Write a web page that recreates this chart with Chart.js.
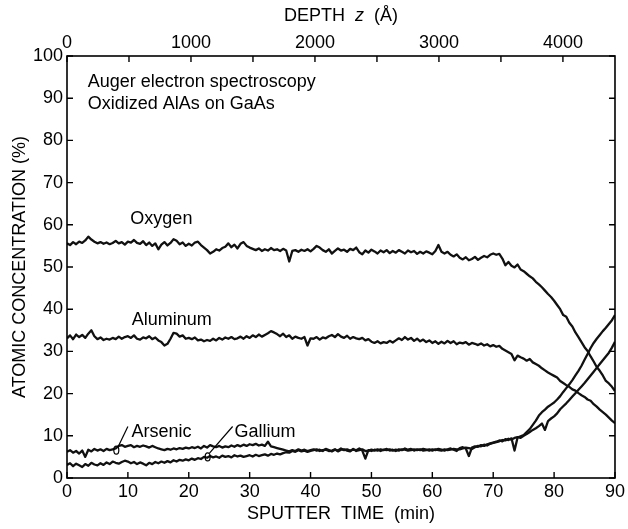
<!DOCTYPE html>
<html>
<head>
<meta charset="utf-8">
<script src="https://cdn.jsdelivr.net/npm/chart.js@4.4.1/dist/chart.umd.min.js"></script>
<style>
  html, body { margin: 0; padding: 0; background: #fff; }
  #grafico-auger { display: block; }
</style>
</head>
<body>
<canvas id="grafico-auger" width="628" height="529"></canvas>
<script>
// Minutes between two Auger readings (first reading at t = 0)
const pasoMinutos = 0.5;

// Atomic concentration (%), one value every 0.5 min
const oxygen = [
  55.6, 55.2, 55.9, 55.4, 56.0, 55.7, 56.3, 57.2, 56.5, 56.0,
  55.6, 55.9, 55.5, 55.8, 55.4, 55.7, 56.2, 55.6, 55.9, 55.3,
  56.0, 55.8, 56.4, 55.7, 55.5, 56.1, 55.2, 55.8, 55.0, 55.6,
  54.2, 55.3, 55.9, 55.1, 55.7, 56.6, 56.2, 55.4, 55.8, 55.0,
  55.5, 55.1, 55.8, 56.0, 55.2, 54.6, 54.0, 53.2, 53.6, 54.2,
  53.9, 54.5, 54.8, 55.6, 54.7, 55.3, 54.4, 55.5, 55.9, 55.0,
  54.6, 54.3, 54.0, 54.4, 53.8, 54.2, 53.9, 54.5, 54.0, 54.2,
  53.8, 54.3, 53.9, 51.3, 53.8, 54.0, 53.6, 54.1, 53.8, 54.2,
  53.7, 54.3, 55.0, 54.6, 54.0, 53.6, 54.2, 53.2, 53.8, 54.4,
  53.9, 54.1, 53.6, 54.3, 54.0, 54.6, 53.5, 53.0, 53.9, 53.4,
  54.1, 53.7, 53.2, 53.9, 53.5, 54.0, 53.3, 53.8, 53.4, 54.0,
  53.6, 53.2, 53.9, 53.5, 53.8, 53.1, 53.6, 53.2, 53.7, 53.4,
  53.0, 53.8, 55.2, 53.6, 53.2, 53.6, 52.9, 52.5, 53.0, 52.2,
  51.8, 52.3, 51.6, 51.9, 52.4, 51.7, 52.2, 52.6, 52.3, 52.9,
  53.2, 52.9, 53.1, 52.0, 50.4, 51.2, 50.3, 49.9, 50.6, 49.4,
  49.0, 48.4, 47.8, 47.3, 46.5, 45.9, 45.2, 44.4, 43.6, 42.9,
  42.0, 41.0, 40.0, 38.6, 38.2, 36.8, 35.9, 34.5, 33.4, 32.2,
  31.0, 30.1, 28.8, 27.6, 26.3, 25.4, 24.3, 23.0, 22.4, 21.6,
  20.6
];

const aluminum = [
  33.1, 33.8, 32.9, 34.0, 33.4, 33.9, 33.2, 34.2, 35.0, 33.6,
  32.9, 33.3, 32.7, 33.0, 32.8, 33.2, 32.9, 33.5, 33.0, 33.4,
  33.6, 33.2, 33.8, 33.0, 32.8, 33.3, 33.1, 33.6, 32.9, 33.3,
  32.6, 32.2, 31.4, 31.8, 33.0, 34.4, 34.2, 33.5, 33.8, 33.0,
  33.2, 32.9, 33.3, 32.6, 32.8, 32.4, 32.7, 32.5, 33.0, 32.6,
  33.2, 32.8, 33.3, 33.0, 33.4, 32.9, 33.1, 33.5, 33.0, 33.6,
  33.2, 33.8, 33.4, 34.0, 33.5, 33.9, 34.3, 34.8, 34.5, 34.1,
  33.6, 34.2, 33.4, 33.8, 33.0, 33.5, 33.2, 33.0, 33.4, 31.4,
  33.1, 33.0, 33.4, 32.8, 33.3, 33.1, 33.6, 33.9, 33.4, 34.1,
  33.5, 33.2, 33.7, 33.0, 33.4, 33.1, 32.9, 33.2, 32.6, 32.9,
  32.3, 32.0, 32.4, 31.9, 32.2, 32.0, 32.5, 32.1, 32.6, 33.1,
  32.7, 33.4, 32.8, 33.2, 32.5, 33.0, 32.4, 32.8, 32.2, 32.6,
  32.0, 32.4, 31.8, 32.3, 31.9, 32.5, 32.0, 32.4, 31.7, 32.1,
  31.9, 32.2, 31.6, 32.0, 31.8, 31.5, 31.9, 31.4, 31.7, 31.2,
  31.5, 31.1, 31.3, 30.6, 30.2, 29.8, 29.4, 27.9, 29.0, 28.6,
  28.3, 27.8, 28.2, 27.4, 27.0, 26.6, 26.0, 25.5, 25.0, 24.6,
  24.2, 23.8, 23.0, 22.5, 22.0, 21.6, 21.0, 20.7, 20.1, 19.6,
  19.2, 18.6, 18.3, 17.5, 16.9, 16.2, 15.6, 15.0, 14.3, 13.6,
  13.0
];

const arsenic = [
  6.2, 6.6, 6.0, 6.4, 5.8, 6.5, 5.0, 6.7, 6.3, 6.9,
  6.5, 6.8, 6.4, 6.9, 6.6, 6.8, 7.0, 7.6, 7.8, 7.4,
  7.6, 7.8, 7.3, 7.6, 7.4, 7.7, 7.5, 7.2, 7.6, 7.3,
  7.0, 6.8, 6.6, 6.9, 6.7, 7.0, 6.8, 7.1, 6.9, 7.2,
  7.0, 7.3, 7.1, 7.4, 7.0, 7.6, 7.2, 7.8, 7.5, 7.3,
  7.6, 7.2, 7.5, 7.3, 7.7, 7.4, 7.8, 7.5, 7.9, 7.6,
  8.0, 7.8, 8.1, 7.7, 7.9, 7.6, 8.6, 7.5, 7.3, 7.1,
  6.9, 6.7, 6.5, 6.3, 6.6, 6.4, 6.8, 6.5, 6.7, 6.4,
  6.6, 6.8, 6.5, 6.7, 6.4, 6.9, 6.6, 6.3, 6.7, 6.5,
  7.0, 6.6, 6.8, 6.5, 6.7, 6.6, 7.0, 6.5, 4.6, 6.6,
  6.4, 6.7, 6.5, 6.8, 6.6, 6.9, 6.5, 6.7, 6.4, 6.8,
  6.6, 7.0, 6.7, 6.9, 6.5, 6.8, 6.6, 6.9, 6.7, 6.5,
  6.8, 6.6, 6.9, 6.7, 6.5, 6.8, 7.0, 6.7, 6.4, 7.1,
  7.3, 7.0, 5.2, 7.2, 7.5, 7.4, 7.8, 7.6, 8.0, 8.2,
  8.4, 8.6, 8.9, 8.7, 9.2, 9.0, 9.4, 6.5, 9.6, 9.9,
  10.2, 10.9, 11.6, 12.6, 13.6, 14.8, 15.6, 16.2, 16.9, 17.4,
  17.9, 18.6, 19.4, 20.4, 21.3, 22.2, 23.2, 24.3, 25.4, 26.6,
  28.0, 29.4, 30.8, 32.0, 33.0, 33.9, 34.8, 35.6, 36.5, 37.4,
  38.6
];

const gallium = [
  3.1, 3.5, 2.8, 3.4, 3.0, 2.6, 3.3, 2.9, 3.6, 3.2,
  3.0, 3.5, 3.1, 3.7, 3.3, 3.9, 3.6, 3.4, 3.8, 4.1,
  3.9, 3.5, 3.8, 3.3, 3.7, 3.4, 3.0, 3.6, 3.3, 3.8,
  3.5, 3.9, 3.6, 4.0, 3.7, 4.2, 3.9, 4.3, 4.1, 4.4,
  4.2, 4.6, 4.3, 4.7, 4.5, 5.0, 4.8, 5.2, 4.9, 5.1,
  4.8, 5.3, 5.0, 5.2, 4.9, 5.4, 5.1, 5.3, 5.0, 5.2,
  5.4, 5.1, 5.5, 5.2, 5.4, 5.6, 5.3, 5.7, 5.5, 5.8,
  5.6, 5.9, 6.1, 6.0, 6.4, 6.2, 6.6, 6.3, 6.5, 6.2,
  6.4, 6.6, 6.8, 6.4, 6.6, 6.7, 6.4, 6.5, 6.8, 6.3,
  6.7, 6.8, 6.5, 6.3, 6.9, 6.4, 6.6, 6.8, 6.4, 6.5,
  6.7, 6.5, 6.8, 6.4, 6.7, 6.6, 6.8, 6.5, 6.7, 6.5,
  6.8, 6.7, 6.5, 6.6, 6.8, 6.6, 6.8, 6.5, 6.6, 6.8,
  6.5, 6.8, 6.6, 6.5, 6.8, 6.6, 6.7, 6.9, 6.8, 6.8,
  7.0, 7.2, 7.1, 6.9, 7.3, 7.6, 7.5, 7.9, 7.7, 8.1,
  8.3, 8.5, 8.7, 9.0, 8.9, 9.3, 9.1, 9.5, 9.7, 9.5,
  10.0, 10.4, 10.9, 11.4, 11.8, 12.3, 12.9, 11.4, 13.5, 14.1,
  14.6, 15.3, 16.3, 17.0, 17.7, 18.5, 19.3, 20.1, 20.9, 21.7,
  22.5, 23.4, 24.3, 25.2, 26.1, 27.0, 27.9, 28.8, 29.7, 30.9,
  32.3
];

// Axis ranges and the depth scale ticks (Å)
const tiempoMax = 90;        // min
const profundidadMax = 4420; // Å reached at 90 min
const profundidadTicks = [0, 500, 1000, 1500, 2000, 2500, 3000, 3500, 4000];

// Text written inside the plot, placed in data units (min, %)
const rotulos = [
  { texto: 'Auger electron spectroscopy', t: 3.4, v: 93.8, align: 'left' },
  { texto: 'Oxidized AlAs on GaAs', t: 3.4, v: 88.6, align: 'left' },
  { texto: 'Oxygen', t: 15.5, v: 61.3, align: 'center' },
  { texto: 'Aluminum', t: 17.2, v: 37.4, align: 'center' },
  { texto: 'Arsenic', t: 10.6, v: 11.0, align: 'left' },
  { texto: 'Gallium', t: 27.5, v: 11.0, align: 'left' }
];

// Leader lines from the labels down to a small loop on the curve
const flechas = [
  { desde: [10.0, 12.2], hasta: [8.4, 7.4], lazo: [8.1, 6.6] },
  { desde: [27.2, 12.2], hasta: [23.4, 5.9], lazo: [23.1, 5.0] }
];

/**
 * Convierte una serie muestreada cada pasoMinutos en puntos {x, y}
 * @param {Array} valores - concentraciones en %
 */
function aPuntos(valores) {
  return valores.map((v, i) => ({ x: i * pasoMinutos, y: v }));
}

const fuente = "'Liberation Sans', Arial, Helvetica, sans-serif";
Chart.defaults.font.family = fuente;
Chart.defaults.color = '#000';

// Frame, inward ticks, labels and depth title
const marcoPlugin = {
  id: 'marco',
  afterDatasetsDraw(chart) {
    const ctx = chart.ctx;
    const area = chart.chartArea;
    const sx = chart.scales.x;
    const sy = chart.scales.y;
    const sd = chart.scales.depth;
    const largo = 6;

    ctx.save();
    ctx.strokeStyle = '#000';
    ctx.lineWidth = 1.6;
    ctx.strokeRect(area.left, area.top, area.right - area.left, area.bottom - area.top);

    ctx.lineWidth = 1.4;
    ctx.beginPath();
    sx.ticks.forEach(tk => {
      const px = sx.getPixelForValue(tk.value);
      ctx.moveTo(px, area.bottom);
      ctx.lineTo(px, area.bottom - largo);
    });
    sy.ticks.forEach(tk => {
      const py = sy.getPixelForValue(tk.value);
      ctx.moveTo(area.left, py);
      ctx.lineTo(area.left + largo, py);
      ctx.moveTo(area.right, py);
      ctx.lineTo(area.right - largo, py);
    });
    sd.ticks.forEach(tk => {
      const px = sd.getPixelForValue(tk.value);
      ctx.moveTo(px, area.top);
      ctx.lineTo(px, area.top + largo);
    });
    ctx.stroke();

    // Labels inside the plot
    ctx.fillStyle = '#000';
    ctx.font = '18px ' + fuente;
    ctx.textBaseline = 'middle';
    rotulos.forEach(r => {
      ctx.textAlign = r.align;
      ctx.fillText(r.texto, sx.getPixelForValue(r.t), sy.getPixelForValue(r.v));
    });

    // Leader lines with their small loops
    ctx.lineWidth = 1.2;
    flechas.forEach(f => {
      ctx.beginPath();
      ctx.moveTo(sx.getPixelForValue(f.desde[0]), sy.getPixelForValue(f.desde[1]));
      ctx.lineTo(sx.getPixelForValue(f.hasta[0]), sy.getPixelForValue(f.hasta[1]));
      ctx.stroke();
      ctx.beginPath();
      ctx.ellipse(sx.getPixelForValue(f.lazo[0]), sy.getPixelForValue(f.lazo[1]), 2.5, 4, 0, 0, Math.PI * 2);
      ctx.stroke();
    });

    // Top axis title with italic z
    const partes = [
      { s: 'DEPTH  ', f: '18px ' + fuente },
      { s: 'z', f: 'italic 18px ' + fuente },
      { s: '  (Å)', f: '18px ' + fuente }
    ];
    let ancho = 0;
    partes.forEach(p => { ctx.font = p.f; ancho += ctx.measureText(p.s).width; });
    let x = (area.left + area.right) / 2 - ancho / 2;
    ctx.textAlign = 'left';
    partes.forEach(p => {
      ctx.font = p.f;
      ctx.fillText(p.s, x, 16);
      x += ctx.measureText(p.s).width;
    });
    ctx.restore();
  }
};

const estiloLinea = {
  borderColor: '#111',
  borderWidth: 2.3,
  pointRadius: 0,
  tension: 0,
  fill: false,
  borderJoinStyle: 'round',
  xAxisID: 'x',
  yAxisID: 'y'
};

// Crear gráfico
const canvas = document.getElementById('grafico-auger');
new Chart(canvas, {
  type: 'line',
  data: {
    datasets: [
      { label: 'Oxygen', data: aPuntos(oxygen), ...estiloLinea },
      { label: 'Aluminum', data: aPuntos(aluminum), ...estiloLinea },
      { label: 'Arsenic', data: aPuntos(arsenic), ...estiloLinea },
      { label: 'Gallium', data: aPuntos(gallium), ...estiloLinea }
    ]
  },
  options: {
    responsive: false,
    animation: false,
    devicePixelRatio: 1,
    layout: { padding: { top: 0, right: 10, bottom: 0, left: 0 } },
    plugins: {
      legend: { display: false },
      tooltip: { enabled: false }
    },
    scales: {
      x: {
        type: 'linear',
        position: 'bottom',
        min: 0,
        max: tiempoMax,
        grid: { display: false, drawTicks: false },
        border: { display: false },
        ticks: { stepSize: 10, autoSkip: false, maxRotation: 0, padding: 3, font: { size: 18 } },
        title: {
          display: true,
          text: 'SPUTTER  TIME  (min)',
          font: { size: 18 },
          padding: { top: 0, bottom: 4 }
        },
        afterFit: s => { s.height = 51; }
      },
      depth: {
        type: 'linear',
        axis: 'x',
        position: 'top',
        min: 0,
        max: profundidadMax,
        grid: { display: false, drawTicks: false },
        border: { display: false },
        afterBuildTicks: s => { s.ticks = profundidadTicks.map(v => ({ value: v })); },
        ticks: {
          autoSkip: false,
          maxRotation: 0,
          padding: 2,
          font: { size: 18 },
          callback: v => (v % 1000 === 0 ? String(v) : '')
        },
        afterFit: s => { s.height = 56; }
      },
      y: {
        min: 0,
        max: 100,
        grid: { display: false, drawTicks: false },
        border: { display: false },
        ticks: { stepSize: 10, autoSkip: false, padding: 4, font: { size: 18 } },
        title: {
          display: true,
          text: 'ATOMIC CONCENTRATION (%)',
          font: { size: 18 },
          padding: { top: 9, bottom: 0 }
        },
        afterFit: s => { s.width = 67; }
      }
    }
  },
  plugins: [marcoPlugin]
});
</script>
</body>
</html>
